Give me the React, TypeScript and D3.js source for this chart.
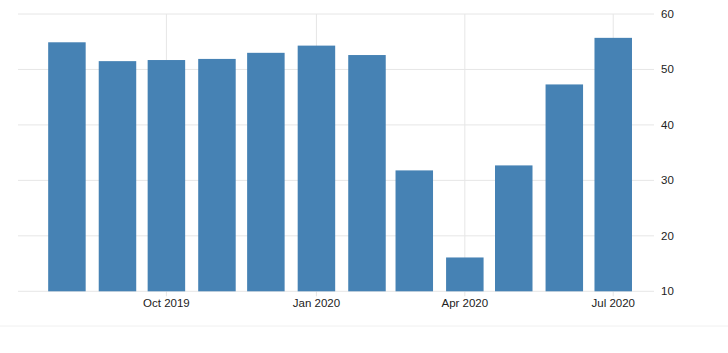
import React from 'react';
import * as d3 from 'd3';

// monthly readings, Aug 2019 - Jul 2020
const months = ['2019-08', '2019-09', '2019-10', '2019-11', '2019-12', '2020-01', '2020-02', '2020-03', '2020-04', '2020-05', '2020-06', '2020-07'];
const values = [54.9, 51.5, 51.7, 51.9, 53.0, 54.3, 52.6, 31.8, 16.1, 32.7, 47.3, 55.7];
const xTicks = ['2019-10', '2020-01', '2020-04', '2020-07'];
const yTicks = [10, 20, 30, 40, 50, 60];

const width = 728;
const height = 353;
const parseMonth = d3.timeParse('%Y-%m');
const fmt = d3.timeFormat('%b %Y');

const App: React.FC = () => {
  const x = d3.scaleTime()
    .domain([new Date(2019, 6, 2), new Date(2020, 6, 26)])
    .range([18, 654]);
  const y = d3.scaleLinear().domain([10, 60]).range([291.3, 14]);
  const barW = 37.5;

  const bars = months.map((m, i) => ({ date: parseMonth(m) as Date, value: values[i] }));
  const tickDates = xTicks.map(t => parseMonth(t) as Date);

  return (
    <svg width={width} height={height} style={{ position: 'absolute', left: 0, top: 0, display: 'block', background: '#fff' }}
      fontFamily="'Liberation Sans', Arial, sans-serif" fontSize={11.5}>
      {/* horizontal grid */}
      {yTicks.map(t => (
        <line key={'h' + t} x1={18} x2={654} y1={y(t)} y2={y(t)} stroke="#e6e6e6" strokeWidth={1} />
      ))}
      {/* vertical grid */}
      {tickDates.map((d, i) => (
        <line key={'v' + i} x1={x(d)} x2={x(d)} y1={y(60)} y2={y(10) + 5} stroke="#e6e6e6" strokeWidth={1} />
      ))}
      {bars.map((b, i) => (
        <rect key={i} x={x(b.date) - barW / 2} y={y(b.value)} width={barW}
          height={y(10) - y(b.value)} fill="#4682b4" />
      ))}
      {tickDates.map((d, i) => (
        <text key={'xl' + i} x={x(d)} y={307.3} textAnchor="middle" fill="#222">{fmt(d)}</text>
      ))}
      {yTicks.map(t => (
        <text key={'yl' + t} x={661} y={y(t)} dy="0.35em" fill="#222">{t}</text>
      ))}
      <line x1={0} x2={width} y1={326} y2={326} stroke="#f0f0f0" strokeWidth={1} />
    </svg>
  );
};

export default App;
